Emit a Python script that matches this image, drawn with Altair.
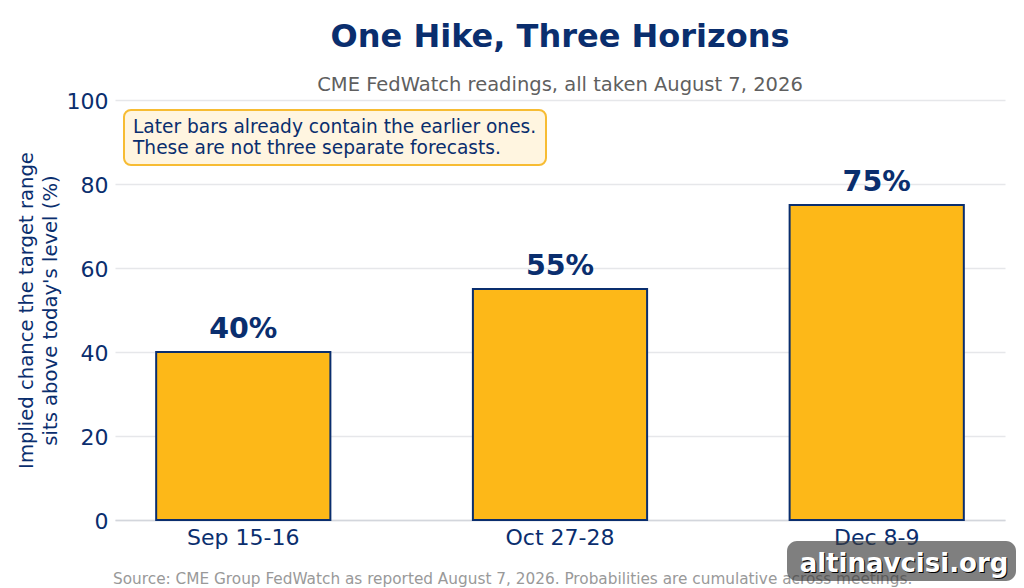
import altair as alt
import pandas as pd

FONT = "DejaVu Sans"
NAVY = "#0a2e6e"

meetings = ["Sep 15-16", "Oct 27-28", "Dec 8-9"]
chances = [40, 55, 75]
y_ticks = [0, 20, 40, 60, 80, 100]
note_text = "Later bars already contain the earlier ones.\nThese are not three separate forecasts."
source_text = "Source: CME Group FedWatch as reported August 7, 2026. Probabilities are cumulative across meetings."
mark_text = "altinavcisi.org"

data = pd.DataFrame({"meeting": meetings, "chance": chances})
data["label"] = data["chance"].astype(str) + "%"

x = alt.X(
    "meeting:N",
    sort=meetings,
    title=None,
    scale=alt.Scale(paddingInner=0.45, paddingOuter=0.13),
    axis=alt.Axis(
        labelAngle=0,
        labelColor=NAVY,
        labelFont=FONT,
        labelFontSize=22,
        labelPadding=7,
        ticks=False,
        domainColor="#d3d6dc",
        domainWidth=1.5,
        grid=False,
    ),
)
y = alt.Y(
    "chance:Q",
    title=["Implied chance the target range", "sits above today's level (%)"],
    scale=alt.Scale(domain=[0, 100]),
    axis=alt.Axis(
        values=y_ticks,
        labelColor=NAVY,
        labelFont=FONT,
        labelFontSize=22,
        labelPadding=7,
        labelOffset=1,
        ticks=False,
        domain=False,
        gridColor="#e6e7ea",
        gridWidth=1.5,
        titleColor=NAVY,
        titleFont=FONT,
        titleFontSize=19.6,
        titleFontWeight="normal",
        titleLineHeight=24,
        titlePadding=6,
    ),
)

base = alt.Chart(data).encode(x=x, y=y)
bars = base.mark_bar(color="#fdb818", stroke=NAVY, strokeWidth=2)
labels = base.mark_text(
    baseline="bottom", dy=-8, color=NAVY, font=FONT, fontSize=28.5, fontWeight="bold"
).encode(text="label:N")

note_box = (
    alt.Chart(pd.DataFrame({"n": [0]}))
    .mark_rect(color="#fff5e0", stroke="#f7bc33", strokeWidth=2, cornerRadius=7)
    .encode(x=alt.value(9), x2=alt.value(431), y=alt.value(10), y2=alt.value(65))
)
note = (
    alt.Chart(pd.DataFrame({"t": [note_text]}))
    .mark_text(align="left", baseline="middle", color=NAVY, font=FONT, fontSize=18.6, lineBreak="\n", lineHeight=21)
    .encode(x=alt.value(18), y=alt.value(27), text="t:N")
)
source = (
    alt.Chart(pd.DataFrame({"t": [source_text]}))
    .mark_text(align="left", baseline="middle", color="#999999", font=FONT, fontSize=15.3)
    .encode(x=alt.value(-2), y=alt.value(479), text="t:N")
)
wm_box = (
    alt.Chart(pd.DataFrame({"n": [0]}))
    .mark_rect(color="#3a3a3a", opacity=0.65, cornerRadius=10)
    .encode(x=alt.value(672), x2=alt.value(901), y=alt.value(441), y2=alt.value(481))
)
wm_shadow = (
    alt.Chart(pd.DataFrame({"t": [mark_text]}))
    .mark_text(align="center", baseline="middle", color="#000000", font=FONT, fontSize=26, fontWeight="bold")
    .encode(x=alt.value(790), y=alt.value(465), text="t:N")
)
wm_text = (
    alt.Chart(pd.DataFrame({"t": [mark_text]}))
    .mark_text(align="center", baseline="middle", color="#ffffff", font=FONT, fontSize=26, fontWeight="bold")
    .encode(x=alt.value(789), y=alt.value(464), text="t:N")
)

chart = (
    alt.layer(bars, labels, note_box, note, source, wm_box, wm_shadow, wm_text)
    .properties(
        width=890,
        height=420,
        autosize=alt.AutoSizeParams(type="none"),
        padding={"left": 107, "top": 92, "right": 11, "bottom": 68},
        view=alt.ViewBackground(stroke="transparent"),
        title=alt.TitleParams(
            "One Hike, Three Horizons",
            subtitle="CME FedWatch readings, all taken August 7, 2026",
            anchor="middle",
            color=NAVY,
            font=FONT,
            fontSize=32,
            fontWeight="bold",
            subtitleColor="#5f5f5f",
            subtitleFont=FONT,
            subtitleFontSize=19.5,
            subtitlePadding=22,
            offset=-5,
        ),
    )
    .configure_view(stroke="transparent")
    .configure(background="#ffffff")
)

chart.save("out.html", embed_options={"renderer": "svg", "actions": False})
